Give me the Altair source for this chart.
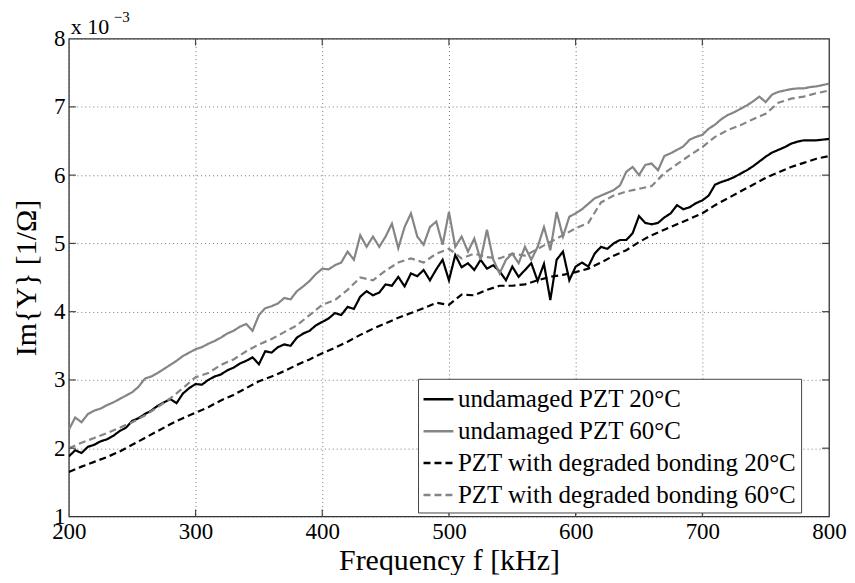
import altair as alt
import pandas as pd

# ---- data (values in units of 1e-3 S) ----
freq_solid = list(range(200, 805, 5))     # kHz
freq_dashed = list(range(200, 810, 10))   # kHz

undamaged_20 = [
    1.88, 1.97, 1.93, 2.02, 2.05, 2.10, 2.13, 2.18, 2.25, 2.30,
    2.40, 2.44, 2.50, 2.55, 2.62, 2.67, 2.72, 2.66, 2.80, 2.88,
    2.94, 2.93, 3.00, 3.05, 3.08, 3.14, 3.18, 3.24, 3.28, 3.33,
    3.23, 3.42, 3.40, 3.48, 3.52, 3.50, 3.62, 3.68, 3.72, 3.80,
    3.85, 3.90, 3.98, 3.95, 4.07, 4.04, 4.22, 4.30, 4.24, 4.28,
    4.40, 4.38, 4.51, 4.37, 4.56, 4.52, 4.61, 4.46, 4.62, 4.76,
    4.46, 4.83, 4.65, 4.71, 4.61, 4.76, 4.63, 4.68, 4.59, 4.46,
    4.66, 4.51, 4.61, 4.71, 4.45, 4.70, 4.17, 4.76, 4.88, 4.46,
    4.66, 4.72, 4.66, 4.85, 4.95, 4.92, 5.00, 5.05, 5.05, 5.15,
    5.40, 5.30, 5.28, 5.30, 5.38, 5.44, 5.56, 5.50, 5.53, 5.59,
    5.63, 5.70, 5.86, 5.90, 5.93, 5.97, 6.02, 6.07, 6.13, 6.20,
    6.27, 6.33, 6.37, 6.41, 6.46, 6.49, 6.51, 6.51, 6.51, 6.52,
    6.53,
]
undamaged_60 = [
    2.27, 2.45, 2.38, 2.50, 2.55, 2.58, 2.63, 2.67, 2.72, 2.77,
    2.82, 2.90, 3.02, 3.05, 3.10, 3.16, 3.22, 3.28, 3.35, 3.40,
    3.45, 3.48, 3.53, 3.57, 3.62, 3.68, 3.72, 3.78, 3.82, 3.72,
    3.95, 4.05, 4.08, 4.12, 4.20, 4.18, 4.30, 4.37, 4.45, 4.55,
    4.63, 4.62, 4.68, 4.72, 4.88, 4.76, 5.12, 4.95, 5.10, 4.95,
    5.10, 5.29, 4.93, 5.24, 5.44, 5.10, 4.98, 5.24, 5.32, 4.98,
    5.46, 4.95, 5.10, 4.88, 5.07, 4.76, 5.20, 4.76, 4.56, 4.76,
    4.85, 4.71, 4.95, 4.76, 4.95, 5.24, 4.90, 5.46, 5.10, 5.39,
    5.44, 5.50, 5.58, 5.66, 5.70, 5.74, 5.78, 5.85, 6.05, 6.12,
    6.00, 6.15, 6.17, 6.07, 6.28, 6.32, 6.37, 6.42, 6.52, 6.56,
    6.59, 6.68, 6.74, 6.82, 6.88, 6.92, 6.97, 7.02, 7.08, 7.15,
    7.07, 7.18, 7.22, 7.24, 7.26, 7.27, 7.27, 7.29, 7.30, 7.32,
    7.34,
]
degraded_20 = [
    1.65, 1.73, 1.80, 1.87, 1.95, 2.05, 2.15, 2.25, 2.35, 2.44,
    2.52, 2.60, 2.70, 2.78, 2.88, 2.98, 3.05, 3.13, 3.22, 3.30,
    3.39, 3.47, 3.56, 3.66, 3.75, 3.83, 3.91, 3.98, 4.05, 4.13,
    4.10, 4.25, 4.24, 4.32, 4.38, 4.38, 4.40, 4.46, 4.51, 4.54,
    4.58, 4.63, 4.72, 4.82, 4.90, 5.02, 5.12, 5.20, 5.28, 5.36,
    5.44, 5.56, 5.66, 5.76, 5.86, 5.96, 6.04, 6.12, 6.18, 6.24,
    6.28,
]
degraded_60 = [
    2.00, 2.08, 2.15, 2.22, 2.30, 2.38, 2.48, 2.60, 2.73, 2.88,
    3.04, 3.10, 3.22, 3.30, 3.42, 3.52, 3.60, 3.70, 3.80, 3.95,
    4.10, 4.17, 4.32, 4.50, 4.46, 4.60, 4.72, 4.78, 4.72, 4.85,
    4.92, 4.78, 4.85, 4.80, 4.78, 4.85, 4.82, 4.92, 5.02, 5.12,
    5.22, 5.30, 5.60, 5.70, 5.76, 5.80, 5.84, 6.03, 6.16, 6.29,
    6.41, 6.56, 6.66, 6.73, 6.82, 6.90, 7.06, 7.12, 7.15, 7.20,
    7.24,
]

series_names = [
    "undamaged PZT 20°C",
    "undamaged PZT 60°C",
    "PZT with degraded bonding 20°C",
    "PZT with degraded bonding 60°C",
]
x_ticks = [200, 300, 400, 500, 600, 700, 800]
y_ticks = [1, 2, 3, 4, 5, 6, 7, 8]

# ---- build long table ----
rows = []
for name, fr, vals in [
    (series_names[0], freq_solid, undamaged_20),
    (series_names[1], freq_solid, undamaged_60),
    (series_names[2], freq_dashed, degraded_20),
    (series_names[3], freq_dashed, degraded_60),
]:
    for f, v in zip(fr, vals):
        rows.append({"freq": f, "val": v, "series": name})
df = pd.DataFrame(rows)

W, H = 762, 479
FONT = "Liberation Serif"
GRAY = "#858585"

legend = alt.Legend(
    title=None, orient="none", legendX=350, legendY=341, direction="vertical",
    labelFont=FONT, labelFontSize=25, labelColor="black", labelLimit=0,
    symbolType="stroke", symbolSize=900, symbolStrokeWidth=2.5,
    strokeColor="#444444", fillColor="white", padding=4, rowPadding=2,
    labelOffset=3, cornerRadius=0,
)

lines = alt.Chart(df).mark_line(strokeWidth=2.2, clip=True).encode(
    x=alt.X("freq:Q", scale=alt.Scale(domain=[200, 800], nice=False, zero=False),
            axis=alt.Axis(values=x_ticks, title="Frequency f [kHz]", labelFlush=False,
                          format="d", labelFont=FONT, titleFont=FONT)),
    y=alt.Y("val:Q", scale=alt.Scale(domain=[1, 8], nice=False, zero=False),
            axis=alt.Axis(values=y_ticks, title="Im{Y} [1/Ω]", format="d",
                          labelFont=FONT, titleFont=FONT)),
    color=alt.Color("series:N", scale=alt.Scale(domain=series_names,
                    range=["black", GRAY, "black", GRAY]), legend=legend),
    strokeDash=alt.StrokeDash("series:N", scale=alt.Scale(domain=series_names,
                    range=[[1, 0], [1, 0], [7, 4], [7, 4]]), legend=legend),
    detail="series:N",
)

# inward tick marks (MATLAB-style box)
xt = pd.DataFrame({"t": x_ticks[1:-1]})
yt = pd.DataFrame({"t": y_ticks[1:-1]})
tick_col = "#444444"
xb = alt.Chart(xt).mark_rule(color=tick_col, strokeWidth=1.2).encode(
    x="t:Q", y=alt.value(H), y2=alt.value(H - 7))
xtop = alt.Chart(xt).mark_rule(color=tick_col, strokeWidth=1.2).encode(
    x="t:Q", y=alt.value(0), y2=alt.value(7))
yl = alt.Chart(yt).mark_rule(color=tick_col, strokeWidth=1.2).encode(
    y="t:Q", x=alt.value(0), x2=alt.value(7))
yr = alt.Chart(yt).mark_rule(color=tick_col, strokeWidth=1.2).encode(
    y="t:Q", x=alt.value(W), x2=alt.value(W - 7))

exp_base = alt.Chart(pd.DataFrame({"t": ["x 10"]})).mark_text(
    font=FONT, fontSize=22, align="left", baseline="alphabetic", color="black"
).encode(text="t:N", x=alt.value(2), y=alt.value(-5))
exp_sup = alt.Chart(pd.DataFrame({"t": ["−3"]})).mark_text(
    font=FONT, fontSize=15, align="left", baseline="alphabetic", color="black"
).encode(text="t:N", x=alt.value(45), y=alt.value(-17))

chart = alt.layer(lines, xb, xtop, yl, yr, exp_base, exp_sup).properties(
    width=W, height=H,
    autosize=alt.AutoSizeParams(type="none"),
    padding={"left": 61, "top": 30, "right": 18, "bottom": 58},
).configure_view(
    stroke="#333333", strokeWidth=1.3
).configure_axis(
    domain=False, ticks=False,
    labelFont=FONT, labelFontSize=23, labelColor="black", labelPadding=4,
    titleFont=FONT, titleFontSize=30, titleFontWeight="normal", titleColor="black",
    grid=True, gridDash=[1, 3], gridColor="#555555", gridOpacity=0.8, gridWidth=1,
).configure_axisY(titlePadding=12).configure_axisX(titlePadding=2)

chart.save("out.html", embed_options={"renderer": "svg", "actions": False})
